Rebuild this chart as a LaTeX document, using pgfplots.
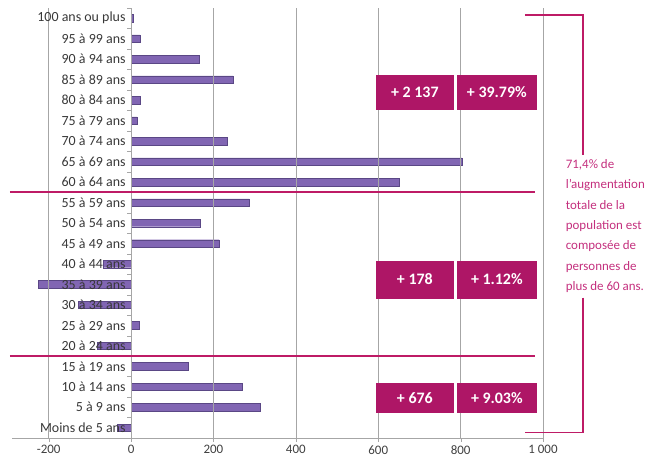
\documentclass[border=0pt]{standalone}
\usepackage{pgfplots}
\pgfplotsset{compat=1.18}
\usepackage{pgfplotstable}
\usepackage{fontspec}
\setmainfont{Carlito}

\definecolor{barfill}{HTML}{8166B3}
\definecolor{bardark}{HTML}{5A4785}
\definecolor{boxmag}{HTML}{AE1666}
\definecolor{linemag}{HTML}{BE1B66}
\definecolor{txtmag}{HTML}{C4307E}
\definecolor{gridgray}{HTML}{A6A6A6}

% bars between grid and labels
\pgfplotsset{
  layers/barsbelow/.define layer set={
    axis background,axis grid,bars,axis ticks,axis lines,
    axis tick labels,pre main,main,axis descriptions,axis foreground}{},
}

% idx 0 = Moins de 5 ans ... idx 20 = 100 ans ou plus
\pgfplotstableread{
idx val
0  -34
1  313
2  269
3  138
4  -82
5  20
6  -128
7  -225
8  -68
9  214
10 168
11 287
12 650
13 803
14 233
15 15
16 22
17 248
18 165
19 22
20 5
}\pyramide

\begin{document}
\begin{tikzpicture}
\begin{axis}[
  set layers=barsbelow,
  scale only axis,
  width=531bp, height=430bp,
  xmin=-289, xmax=1000,
  ymin=-0.5, ymax=20.5,
  axis x line=bottom,
  axis y line=middle,
  axis line style={-, draw=gridgray},
  hide obscured x ticks=false,
  xtick={-200,0,200,400,600,800,1000},
  xmajorgrids,
  grid style={draw=gridgray, line width=0.6bp},
  tick align=outside,
  major tick length=4bp,
  minor tick length=4bp,
  tick style={draw=gridgray},
  major y tick style={draw=none},
  ytick={0,...,20},
  minor ytick={-0.5,0.5,...,20.5},
  yticklabels={Moins de 5 ans, 5 à 9 ans, 10 à 14 ans, 15 à 19 ans, 20 à 24 ans,
    25 à 29 ans, 30 à 34 ans, 35 à 39 ans, 40 à 44 ans, 45 à 49 ans, 50 à 54 ans,
    55 à 59 ans, 60 à 64 ans, 65 à 69 ans, 70 à 74 ans, 75 à 79 ans, 80 à 84 ans,
    85 à 89 ans, 90 à 94 ans, 95 à 99 ans, 100 ans ou plus},
  yticklabel style={font=\fontsize{14}{15}\selectfont, text=black!78, xshift=2bp},
  xticklabel style={font=\fontsize{13}{14}\selectfont, text=black!75},
  /pgf/number format/assume math mode=true,
  /pgf/number format/1000 sep={\ },
  clip=false,
]
\addplot[xbar, bar width=7.5bp, draw=bardark, fill=barfill, on layer=bars]
  table[x=val, y=idx] {\pyramide};

% separators
\draw[linemag, line width=1.6bp] (axis cs:-294,11.5) -- (axis cs:980,11.5);
\draw[linemag, line width=1.6bp] (axis cs:-294,3.5) -- (axis cs:980,3.5);

% boxes
\tikzset{mbox/.style={fill=boxmag, text=white, font=\fontsize{16}{18}\selectfont\bfseries,
  inner sep=0pt, anchor=center}}
\node[mbox, minimum width=78bp, minimum height=35bp] at (axis cs:689,16.37) {+ 2 137};
\node[mbox, minimum width=80bp, minimum height=35bp] at (axis cs:888,16.37) {+ 39.79\%};
\node[mbox, minimum width=78bp, minimum height=38bp] at (axis cs:689,7.24) {+ 178};
\node[mbox, minimum width=80bp, minimum height=38bp] at (axis cs:888,7.24) {+ 1.12\%};
\node[mbox, minimum width=78bp, minimum height=30bp] at (axis cs:689,1.43) {+ 676};
\node[mbox, minimum width=80bp, minimum height=30bp] at (axis cs:888,1.43) {+ 9.03\%};

% bracket
\draw[linemag, line width=1.8bp] (axis cs:956,20.15) -- (axis cs:1097,20.15) -- (axis cs:1097,13.3);
\draw[linemag, line width=1.8bp] (axis cs:1097,6.35) -- (axis cs:1097,-0.23) -- (axis cs:956,-0.23);
\node[anchor=west, align=left, text=txtmag, font=\fontsize{13}{20.5}\selectfont,
  inner sep=0pt] at (axis cs:1055,9.85)
  {71,4\% de\\l'augmentation\\totale de la\\population est\\composée de\\personnes de\\plus de 60 ans.};
\end{axis}
\path (-12bp,-25bp) rectangle (658bp,438bp);
\end{tikzpicture}
\end{document}
